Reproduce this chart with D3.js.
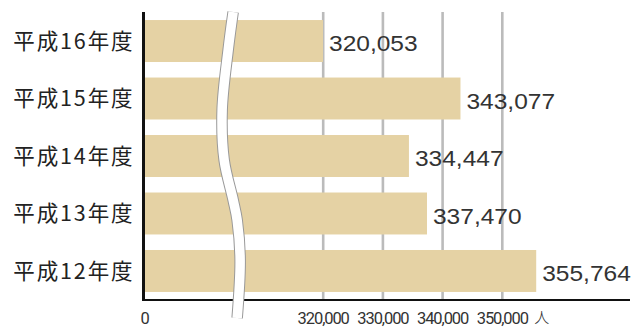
<!DOCTYPE html>
<html>
<head>
<meta charset="utf-8">
<script src="https://cdn.jsdelivr.net/npm/d3@7"></script>
<style>
  body { margin: 0; background: #fff; }
</style>
</head>
<body>
<script>
// Data
var categories = ["平成16年度", "平成15年度", "平成14年度", "平成13年度", "平成12年度"];
var values = [320053, 343077, 334447, 337470, 355764];
var tickValues = [0, 320000, 330000, 340000, 350000];
var unitLabel = "人";
var breakValue = 305000;

// Chart config
var width = 633, height = 327;
var plotTop = 12, plotBottom = 300, plotLeft = 144;

var svg = d3.select("body").append("svg")
    .attr("width", width)
    .attr("height", height);

// broken scale: 0..300000 squeezed, then 10,000 per ~60px
var x = d3.scaleLinear()
    .domain([0, 300000, 350000])
    .range([plotLeft, 203.3, 501.8]);

var y = d3.scaleBand()
    .domain(categories)
    .range([plotTop, plotBottom])
    .paddingInner(0.27)
    .paddingOuter(0.14);

// gridlines
var grid = svg.append("g")
    .attr("transform", "translate(0," + plotBottom + ")")
    .call(d3.axisBottom(x)
        .tickValues(tickValues.filter(function(d) { return d > 0; }))
        .tickSize(-(plotBottom - plotTop))
        .tickFormat(""));
grid.select(".domain").remove();
grid.selectAll(".tick line")
    .attr("stroke", "#bbbbbb")
    .attr("stroke-width", 2.6);

// bars
svg.append("g").selectAll("rect")
    .data(values)
    .join("rect")
    .attr("x", x(0))
    .attr("y", function(d, i) { return y(categories[i]); })
    .attr("width", function(d) { return x(d) - x(0); })
    .attr("height", y.bandwidth())
    .attr("fill", "#e5d2a4");

// value labels (slightly stretched, like the original)
svg.append("g").selectAll("text")
    .data(values)
    .join("text")
    .attr("transform", function(d, i) {
        return "translate(" + (x(d) + 6) + "," + (y(categories[i]) + y.bandwidth() / 2 + 2) + ") scale(1.09,1)";
    })
    .attr("dy", "0.36em")
    .attr("font-family", "'Liberation Sans', Arial, sans-serif")
    .attr("font-size", 22.5)
    .attr("fill", "#333")
    .text(d3.format(","));

// x axis
var xAxisEl = svg.append("g")
    .attr("transform", "translate(0," + plotBottom + ")")
    .call(d3.axisBottom(x)
        .tickValues(tickValues)
        .tickSize(0)
        .tickPadding(12)
        .tickFormat(d3.format(",")));
xAxisEl.select(".domain")
    .attr("d", "M" + (plotLeft - 1) + ",0H630")
    .attr("stroke", "#111")
    .attr("stroke-width", 2.2);
xAxisEl.selectAll(".tick text")
    .attr("font-family", "Roboto, sans-serif")
    .attr("font-size", 16.5)
    .attr("letter-spacing", -1.1)
    .attr("fill", "#333");

// unit label
svg.append("text")
    .attr("x", x(350000) + 40)
    .attr("y", plotBottom + 12)
    .attr("dy", "0.71em")
    .attr("text-anchor", "middle")
    .attr("font-family", "'Noto Sans CJK JP', sans-serif")
    .attr("font-weight", 300)
    .attr("font-size", 15)
    .attr("fill", "#333")
    .text(unitLabel);

// y axis
var yAxisEl = svg.append("g")
    .attr("transform", "translate(" + (plotLeft - 0.5) + ",0)")
    .call(d3.axisLeft(y).tickSize(0).tickPadding(9));
yAxisEl.select(".domain")
    .attr("d", "M0," + plotTop + "V" + (plotBottom + 1))
    .attr("stroke", "#111")
    .attr("stroke-width", 3);
yAxisEl.selectAll(".tick text")
    .attr("font-family", "'Noto Sans CJK JP', sans-serif")
    .attr("font-size", 21.5)
    .attr("letter-spacing", 1.9)
    .attr("dy", "0.36em")
    .attr("fill", "#222");

// axis break
var bx = x(breakValue);
var breakPts = [[0, plotTop], [-5, 50], [-11, 110], [-9, 160], [0, 200], [4, 220], [7, 260], [4, 318]];
var breakLine = d3.line()
    .x(function(d) { return bx + d[0]; })
    .y(function(d) { return d[1]; })
    .curve(d3.curveCatmullRom);
svg.append("path")
    .attr("d", breakLine(breakPts))
    .attr("fill", "none")
    .attr("stroke", "#999")
    .attr("stroke-width", 11.5);
svg.append("path")
    .attr("d", breakLine(breakPts))
    .attr("fill", "none")
    .attr("stroke", "#fff")
    .attr("stroke-width", 9.5);
</script>
</body>
</html>
